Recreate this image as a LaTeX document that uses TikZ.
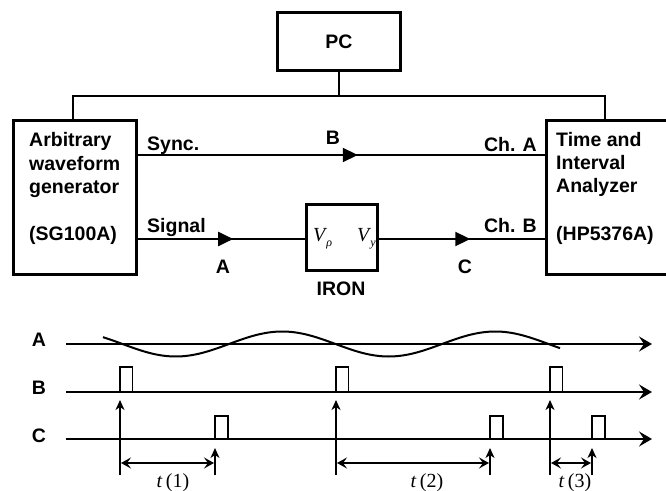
\documentclass[tikz,border=0pt]{standalone}
\usepackage{fontspec}
\setmainfont{Liberation Sans}
\newfontfamily\tms{Liberation Serif}
\usetikzlibrary{arrows.meta,decorations.markings}
\begin{document}
\begin{tikzpicture}[x=1bp,y=-1bp,
  box/.style={draw, line width=3bp, inner sep=0pt},
  lbl/.style={font=\fontsize{19.5bp}{23.5bp}\selectfont\bfseries, inner sep=0pt},
  mth/.style={font=\fontsize{20bp}{22bp}\selectfont\tms, inner sep=0pt},
  tlab/.style={font=\fontsize{20bp}{22bp}\selectfont\tms, inner sep=0pt},
  wire/.style={line width=2bp},
  flow/.style={wire, postaction={decorate},
    decoration={markings, mark=at position #1 with {\arrow{Triangle[length=15bp,width=14bp]}}}},
  axis/.style={line width=2.5bp, -{Stealth[length=13bp,width=15bp,inset=5bp]}},
  pulse/.style={line width=1.5bp},
  tick/.style={line width=1.5bp, -{Stealth[length=10bp,width=9bp,inset=3bp]}},
  span/.style={line width=1.5bp, {Stealth[length=10bp,width=11bp,inset=4bp]}-{Stealth[length=10bp,width=11bp,inset=4bp]}},
]
\useasboundingbox (0,0) rectangle (666,491);
\clip (0,0) rectangle (666,491);

% boxes
\node[box, minimum width=123bp, minimum height=58bp, font=\fontsize{19.5bp}{23.5bp}\selectfont\bfseries] (pc) at (339,41.5) {PC};
\node[box, minimum width=123bp, minimum height=154bp] (awg) at (75,197.5) {};
\node[box, minimum width=123bp, minimum height=154bp] (tia) at (608,197.5) {};
\node[box, minimum width=71bp, minimum height=66bp] (iron) at (342,237.5) {};

% box texts
\node[lbl, anchor=base west] (awg1) at (29,147) {Arbitrary};
\node[lbl, anchor=base west] (awg2) at (29,171) {waveform};
\node[lbl, anchor=base west] (awg3) at (29,194) {generator};
\node[lbl, anchor=base west] (awg4) at (29,241) {(SG100A)};
\node[lbl, anchor=base west] (tia1) at (556,147) {Time and};
\node[lbl, anchor=base west] (tia2) at (556,170) {Interval};
\node[lbl, anchor=base west] (tia3) at (556,193) {Analyzer};
\node[lbl, anchor=base west] (tia4) at (556,241) {(HP5376A)};
\node[mth, anchor=base west] (vrho) at (313,242) {\itshape V\kern1bp\raisebox{-5bp}{\fontsize{12bp}{12bp}\selectfont ρ}};
\node[mth, anchor=base west] (vy) at (357,242) {\itshape V\kern1bp\raisebox{-5bp}{\fontsize{12bp}{12bp}\selectfont y}};
\node[lbl, anchor=base] (ironl) at (341,295) {IRON};

% bus
\coordinate (bus) at (339,96);
\draw[wire] (pc.south) -- (bus);
\draw[wire] ([xshift=-2bp]awg.north) |- (bus) -| ([xshift=-3bp]tia.north);

% signal lines
\coordinate (syncy) at (0,155);
\coordinate (sigy) at (0,239);
\draw[flow=0.54] (awg.east |- syncy) -- (tia.west |- syncy);
\draw[flow=0.57] (awg.east |- sigy) -- (iron.west |- sigy);
\draw[flow=0.55] (iron.east |- sigy) -- (tia.west |- sigy);

% line labels
\node[lbl, anchor=base west] (sync) at (147,151) {Sync.};
\node[lbl, anchor=base west] (signal) at (147,233) {Signal};
\node[lbl, anchor=base east] (cha) at (537,152) {Ch. A};
\node[lbl, anchor=base east] (chb) at (537,233) {Ch. B};
\node[lbl, anchor=base] (lb) at (333,145) {B};
\node[lbl, anchor=base] (la) at (223,273) {A};
\node[lbl, anchor=base] (lc) at (465,273) {C};

% timing diagram
\node[lbl, anchor=base] (tA) at (39,346) {A};
\node[lbl, anchor=base] (tB) at (39,394) {B};
\node[lbl, anchor=base] (tC) at (39,442) {C};
\draw[axis] (66,344) -- (652,344);
\draw[axis] (66,392) -- (652,392);
\draw[axis] (66,439) -- (652,439);
\draw[line width=2bp] plot[domain=103:560, samples=150, smooth] (\x, {344+12.5*sin(1.690141*(\x-122.5))});

\foreach \x in {120,336,550} {
  \draw[pulse] (\x,392) -- (\x,367) -- (\x+12.5,367) -- (\x+12.5,392);
  \draw[tick] (\x,475) -- (\x,400);
}
\foreach \x in {215,490,592} {
  \draw[pulse] (\x,439) -- (\x,416) -- (\x+13,416) -- (\x+13,439);
  \draw[tick] (\x,475) -- (\x,448);
}
\draw[span] (121,463) -- (214,463);
\draw[span] (337,463) -- (489,463);
\draw[span] (551,463) -- (591,463);
\node[tlab, anchor=base] (t1) at (173,487) {\textit{t}\,(1)};
\node[tlab, anchor=base] (t2) at (427,487) {\textit{t}\,(2)};
\node[tlab, anchor=base] (t3) at (575,487) {\textit{t}\,(3)};
\end{tikzpicture}
\end{document}
